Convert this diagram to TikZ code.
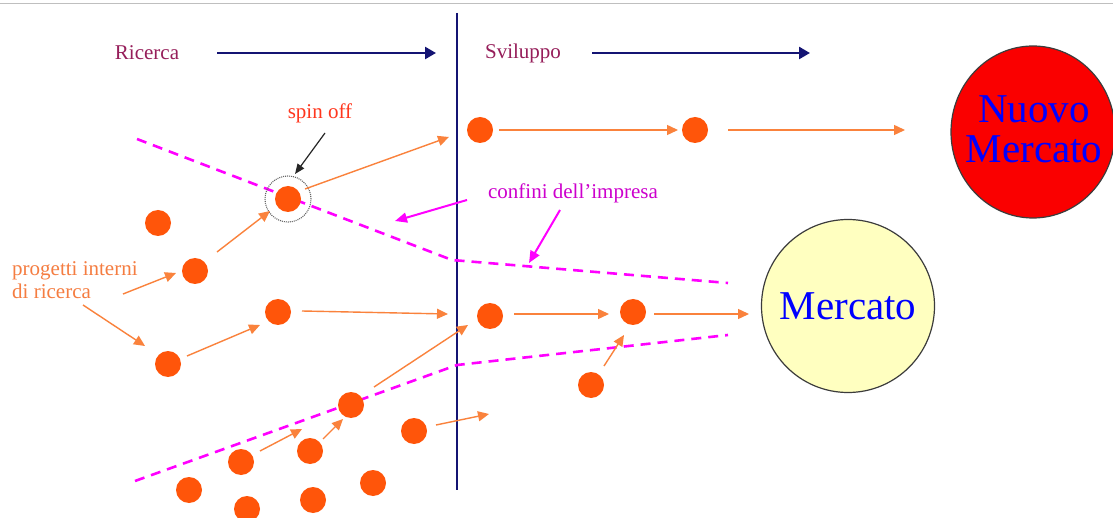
\documentclass[tikz,border=0pt]{standalone}
\usepackage{fontspec}
\setmainfont{Liberation Serif}
\usetikzlibrary{arrows.meta,shapes.geometric}
\definecolor{navyc}{RGB}{20,20,115}
\definecolor{dotc}{RGB}{255,85,10}
\definecolor{arrc}{RGB}{250,130,60}
\definecolor{phasec}{RGB}{150,30,90}
\definecolor{spinc}{RGB}{255,55,30}
\definecolor{projc}{RGB}{245,125,65}
\definecolor{confc}{RGB}{205,0,205}
\definecolor{magc}{RGB}{255,0,255}
\definecolor{mktyel}{RGB}{255,255,192}
\definecolor{mktred}{RGB}{250,0,0}
\definecolor{edgec}{RGB}{60,60,60}
\begin{document}
\begin{tikzpicture}[x=1pt,y=-1pt,
  dot/.style={circle,fill=dotc,minimum size=26pt,inner sep=0pt},
  oarr/.style={draw=arrc,line width=1.4pt,-{Triangle[length=11pt,width=10pt]}},
  narr/.style={draw=navyc,line width=2.5pt,-{Triangle[length=11pt,width=12pt]}},
  marr/.style={draw=magc,line width=2pt,-{Triangle[length=12pt,width=10pt]}},
  karr/.style={draw=black!85,line width=1.2pt,-{Triangle[length=10pt,width=8pt]}},
  bound/.style={draw=magc,line width=2.6pt,dash pattern=on 10pt off 7pt},
  phase/.style={text=phasec,font=\fontsize{21}{23}\selectfont,inner sep=0pt},
  lbl/.style={font=\fontsize{21}{23}\selectfont,inner sep=0pt},
  market/.style={ellipse,draw=edgec,line width=1.2pt,inner sep=0pt},
  mkttext/.style={text=blue,font=\fontsize{41}{40}\selectfont,align=center,inner sep=0pt}]
\useasboundingbox (0,0) rectangle (1113,518);
\fill[white] (0,0) rectangle (1113,518);
\draw[gray!50,line width=1pt] (0,4) -- (1113,4);

% phase labels and arrows
\node[phase] (ric) at (147,53) {Ricerca};
\node[phase] (svi) at (523,53) {Sviluppo};
\coordinate (n1s) at (217,53); \coordinate (n1e) at (436,53);
\coordinate (n2s) at (592,53); \coordinate (n2e) at (810,53);
\draw[narr] (n1s) -- (n1e);
\draw[narr] (n2s) -- (n2e);

% divider
\coordinate (vtop) at (457,13); \coordinate (vbot) at (457,490);
\draw[navyc,line width=2.5pt] (vtop) -- (vbot);

% boundaries of the firm
\coordinate (ub1) at (137,139); \coordinate (ub2) at (452,260); \coordinate (ub3) at (728,283);
\coordinate (lb1) at (135,481); \coordinate (lb2) at (457,365); \coordinate (lb3) at (728,335);
\draw[bound] (ub1) -- (ub2) -- (ub3);
\draw[bound] (lb1) -- (lb2) -- (lb3);

% markets
\node[market,fill=mktred,minimum width=164pt,minimum height=172pt] (nm) at (1033,132) {};
\node[mkttext] (nmt) at (1034,129) {Nuovo\\Mercato};
\node[market,fill=mktyel,minimum width=173pt,minimum height=173pt] (m) at (848,306) {};
\node[mkttext] (mt) at (848,306) {Mercato};

% dots
\node[dot] (sp) at (288,199) {};
\node[draw=gray!80!black,circle,minimum size=46pt,line width=1.1pt,dash pattern=on 1pt off 1pt] (spc) at (288,199) {};
\node[dot] (a1) at (480,130) {};
\node[dot] (a2) at (695,130) {};
\node[dot] (b1) at (158,223) {};
\node[dot] (b2) at (195,271) {};
\node[dot] (b3) at (168,364) {};
\node[dot] (b4) at (278,312) {};
\node[dot] (c1) at (490,316) {};
\node[dot] (c2) at (633,312) {};
\node[dot] (c3) at (591,385) {};
\node[dot] (e1) at (351,405) {};
\node[dot] (e2) at (414,431) {};
\node[dot] (e3) at (241,462) {};
\node[dot] (e4) at (310,451) {};
\node[dot] (e5) at (189,490) {};
\node[dot] (e6) at (247,509) {};
\node[dot] (e7) at (313,500) {};
\node[dot] (e8) at (373,483) {};

% labels
\node[lbl,text=spinc] (spl) at (320,113) {spin off};
\node[lbl,text=projc,align=left,anchor=west] (proj) at (12,280) {progetti interni\\di ricerca};
\node[lbl,text=confc] (conf) at (573,193) {confini dell’impresa};

% arrow end points
\coordinate (k1) at (325,133); \coordinate (k2) at (295,174);
\coordinate (o1s) at (305,189); \coordinate (o1e) at (449,137);
\coordinate (o2s) at (499,130); \coordinate (o2e) at (678,130);
\coordinate (o3s) at (728,130); \coordinate (o3e) at (905,130);
\coordinate (o4s) at (217,252); \coordinate (o4e) at (270,211);
\coordinate (o5s) at (123,294); \coordinate (o5e) at (176,273);
\coordinate (o6s) at (83,305);  \coordinate (o6e) at (145,346);
\coordinate (o7s) at (187,356); \coordinate (o7e) at (260,325);
\coordinate (o8s) at (302,311); \coordinate (o8e) at (448,314);
\coordinate (o9s) at (374,387); \coordinate (o9e) at (468,325);
\coordinate (o10s) at (514,314); \coordinate (o10e) at (609,314);
\coordinate (o11s) at (654,314); \coordinate (o11e) at (749,314);
\coordinate (o12s) at (604,366); \coordinate (o12e) at (624,335);
\coordinate (o13s) at (436,425); \coordinate (o13e) at (489,414);
\coordinate (o14s) at (260,451); \coordinate (o14e) at (302,429);
\coordinate (o15s) at (323,439); \coordinate (o15e) at (343,419);
\coordinate (m1s) at (467,200); \coordinate (m1e) at (395,221);
\coordinate (m2s) at (560,210); \coordinate (m2e) at (529,263);

\draw[karr] (k1) -- (k2);
\foreach \i in {1,...,15} {\draw[oarr] (o\i s) -- (o\i e);}
\draw[marr] (m1s) -- (m1e);
\draw[marr] (m2s) -- (m2e);
\end{tikzpicture}
\end{document}
